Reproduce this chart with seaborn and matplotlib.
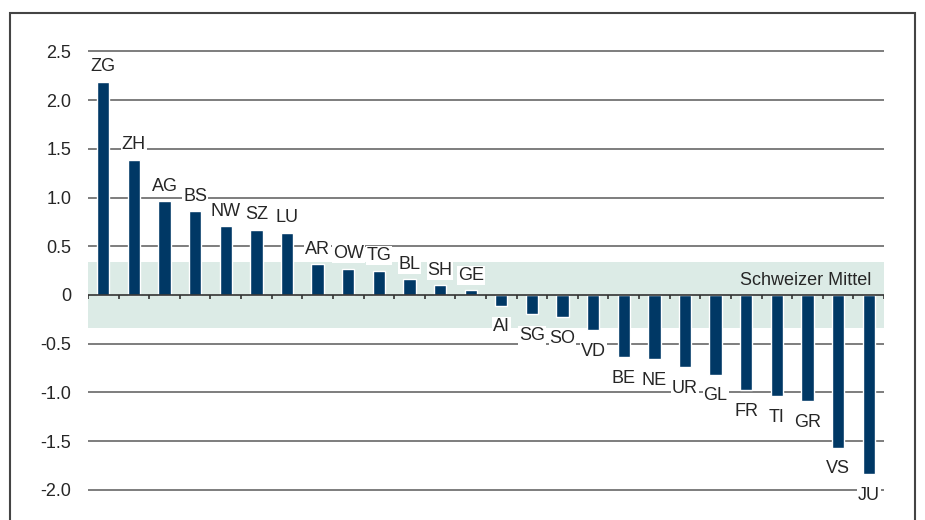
import matplotlib
matplotlib.use("Agg")
import matplotlib.pyplot as plt
import seaborn as sns
import pandas as pd
from matplotlib.patches import Rectangle

# Data
cantons = ["ZG", "ZH", "AG", "BS", "NW", "SZ", "LU", "AR", "OW", "TG", "BL", "SH", "GE",
           "AI", "SG", "SO", "VD", "BE", "NE", "UR", "GL", "FR", "TI", "GR", "VS", "JU"]
values = [2.19, 1.39, 0.96, 0.86, 0.71, 0.67, 0.64, 0.32, 0.27, 0.25, 0.16, 0.10, 0.05,
          -0.11, -0.20, -0.23, -0.36, -0.64, -0.66, -0.74, -0.82, -0.98, -1.04, -1.09, -1.57, -1.84]
band = 0.34
band_label = "Schweizer Mittel"
yticks = [-2.0, -1.5, -1.0, -0.5, 0, 0.5, 1.0, 1.5, 2.0, 2.5]
ytick_labels = ["-2.0", "-1.5", "-1.0", "-0.5", "0", "0.5", "1.0", "1.5", "2.0", "2.5"]

df = pd.DataFrame({"canton": cantons, "value": values})

sns.set_style("white")
plt.rcParams["font.family"] = ["Liberation Sans", "DejaVu Sans"]

fig = plt.figure(figsize=(9.25, 5.2), dpi=100)
ax = fig.add_axes([88 / 925, 1 - 519 / 520, 796 / 925, 487 / 520])

bar_color = "#003865"
text_color = "#262626"
fs = 13

ax.axhspan(-band, band, color="#dcebe6", zorder=0, lw=0)
for t in yticks:
    if t != 0:
        ax.axhline(t, color="#5a5a5a", lw=1.1, zorder=1)

sns.barplot(data=df, x="canton", y="value", color=bar_color, width=0.4,
            saturation=1, ax=ax, zorder=2)

ax.set_xlim(-0.5, len(cantons) - 0.5)
ax.set_ylim(-2.3, 2.7)

# zero line with boundary ticks
ax.axhline(0, color="#333333", lw=1.2, zorder=3)
ax.vlines([i - 0.5 for i in range(len(cantons) + 1)], -0.045, 0,
          color="#333333", lw=1.2, zorder=3)

for i, (c, v) in enumerate(zip(cantons, values)):
    if v >= 0:
        ax.annotate(c, (i, v), xytext=(0, 4.5), textcoords="offset points",
                    ha="center", va="bottom", fontsize=fs, color=text_color, zorder=4,
                    bbox=dict(boxstyle="square,pad=0.05", fc="white", ec="none"))
    else:
        ax.annotate(c, (i, v), xytext=(0, -9), textcoords="offset points",
                    ha="center", va="top", fontsize=fs, color=text_color, zorder=4,
                    bbox=dict(boxstyle="square,pad=0.05", fc="white", ec="none"))

ax.text(len(cantons) - 0.9, 0.15, band_label, ha="right", va="center",
        fontsize=fs, color=text_color, zorder=4)

ax.set_yticks(yticks)
ax.set_yticklabels(ytick_labels, fontsize=fs, color=text_color)
ax.tick_params(axis="y", length=0, pad=12)
ax.set_xticks([])
ax.set_xlabel("")
ax.set_ylabel("")
for s in ax.spines.values():
    s.set_visible(False)
ax.patch.set_alpha(0)

# outer frame
fig.patches.append(Rectangle((10 / 925, -0.05), 905 / 925, 1.05 - 13 / 520,
                             transform=fig.transFigure, fill=False,
                             ec="#444444", lw=1.5, zorder=10))

fig.savefig("out.png", dpi=100)
